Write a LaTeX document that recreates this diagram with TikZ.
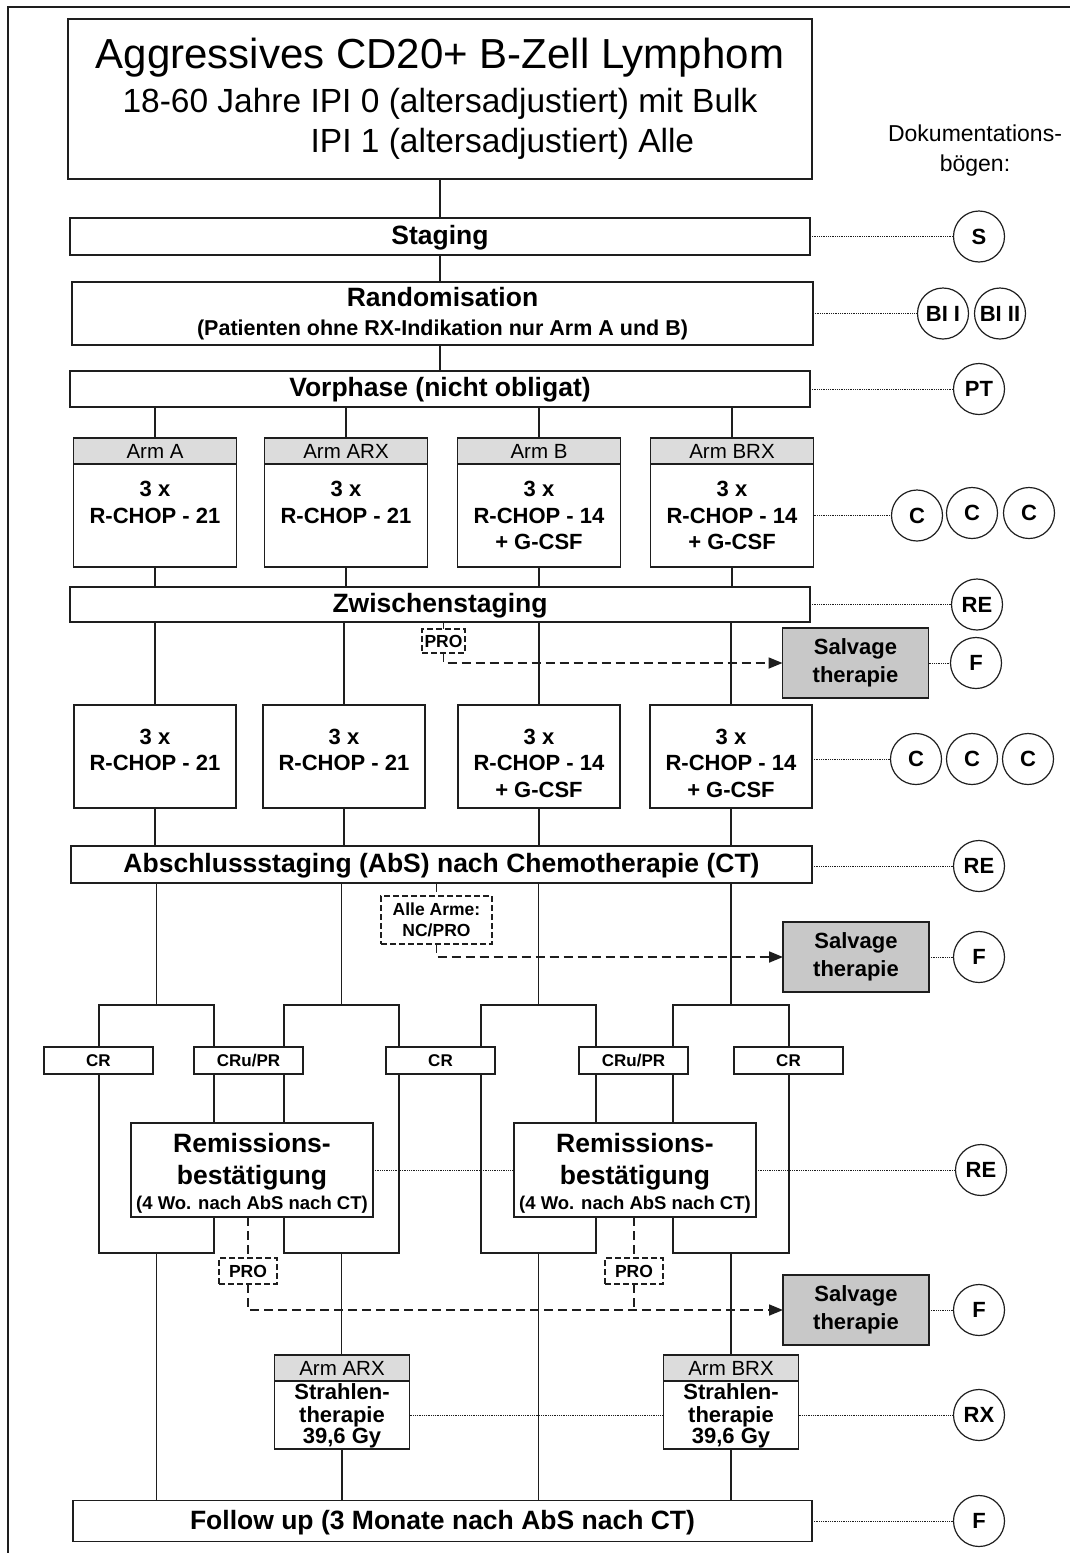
\documentclass[tikz,border=0pt]{standalone}
\usepackage{fontspec}
\setmainfont{Liberation Sans}
\usetikzlibrary{positioning,arrows.meta,backgrounds}
\definecolor{linedark}{RGB}{30,30,30}
\definecolor{headgray}{RGB}{220,220,220}
\definecolor{salvgray}{RGB}{200,200,200}
\newcommand{\fs}[2]{\fontsize{#1}{#2}\selectfont}
\newcommand{\dropby}[2]{\raisebox{-#1}[\height][\depth]{\begin{tabular}{@{}c@{}}#2\end{tabular}}}

\begin{document}
\begin{tikzpicture}[x=1pt,y=-1pt,
  box/.style={draw=linedark,line width=1.5pt,fill=white,inner sep=0pt,outer sep=0pt,align=center},
  wide/.style={box,minimum width=740,font=\bfseries\fs{26.5}{29}},
  armhead/.style={box,fill=headgray,minimum width=163,minimum height=26,font=\fs{20.5}{24}},
  armbody/.style={box,minimum width=163,minimum height=103,font=\bfseries\fs{22}{26.5}},
  salv/.style={box,fill=salvgray,minimum width=146,minimum height=70,font=\bfseries\fs{22}{28}},
  resp/.style={box,line width=1.3pt,minimum width=109,minimum height=27,font=\bfseries\fs{17}{20}},
  remi/.style={box,minimum width=242,minimum height=94,font=\bfseries\fs{26.5}{32}},
  rthead/.style={box,fill=headgray,minimum width=135,minimum height=26,font=\fs{20.5}{24}},
  rtbody/.style={box,minimum width=135,minimum height=68,font=\bfseries\fs{22}{21}},
  probox/.style={box,line width=1.2pt,dash pattern=on 6pt off 3pt,font=\bfseries\fs{17.5}{20}},
  docu/.style={circle,draw=linedark,line width=1.2pt,minimum size=51,inner sep=0pt,font=\bfseries\fs{22}{24}},
  conn/.style={linedark,line width=1.3pt},
  dots/.style={linedark,line width=0.8pt,densely dotted},
  dashline/.style={linedark,line width=1.8pt,dash pattern=on 9pt off 5pt},
  dasharrow/.style={dashline,-{Triangle[length=14pt,width=11pt]}}]
  \useasboundingbox (0,0) rectangle (1070,1553);
  % frame
  \draw[linedark,line width=1.2pt] (8,1553) -- (8,7) -- (1070,7);

  % title
  \node[box,minimum width=744,minimum height=160,font=\fs{33.5}{40}] (title) at (440,99)
    {\dropby{2pt}{{\fs{42}{46}Aggressives CD20+ B-Zell Lymphom}\\[4pt]
     \begin{tabular}{@{}l@{}}18-60 Jahre IPI 0 (altersadjustiert) mit Bulk\\
     \hphantom{18-60 Jahre }IPI 1 (altersadjustiert) Alle\end{tabular}}};
  \node[font=\fs{23}{30},align=center] (doku) at (975,151) {Dokumentations-\\bögen:};

  % staging, randomisation, vorphase
  \node[wide,minimum height=37] (staging) at (440,236.5) {\dropby{2pt}{Staging}};
  \node[wide,minimum width=741,minimum height=63] (random) at (442.5,313.5)
    {\dropby{1.5pt}{Randomisation\\{\fs{21.5}{29}(Patienten ohne RX-Indikation nur Arm A und B)}}};
  \node[wide,minimum height=36] (vorphase) at (440,389) {\dropby{2pt}{Vorphase (nicht obligat)}};

  % arms, first 3 cycles
  \node[armhead] (hA) at (155,451) {Arm A};
  \node[armbody,below=0pt of hA] (bA) {3 x\\R-CHOP - 21\\\mbox{}};
  \node[armhead] (hARX) at (346,451) {Arm ARX};
  \node[armbody,below=0pt of hARX] (bARX) {3 x\\R-CHOP - 21\\\mbox{}};
  \node[armhead] (hB) at (539,451) {Arm B};
  \node[armbody,below=0pt of hB] (bB) {3 x\\R-CHOP - 14\\+ G-CSF};
  \node[armhead] (hBRX) at (732,451) {Arm BRX};
  \node[armbody,below=0pt of hBRX] (bBRX) {3 x\\R-CHOP - 14\\+ G-CSF};

  % zwischenstaging
  \node[wide,minimum height=35] (zwischen) at (440,604.5) {\dropby{2pt}{Zwischenstaging}};
  \node[probox,minimum width=43,minimum height=24] (pro1) at (443.5,641) {PRO};
  \node[salv] (salv1) at (855.5,663) {Salvage\\therapie};

  % arms, second 3 cycles
  \node[armbody,minimum width=162] (rA) at (155,756.5) {\dropby{9pt}{3 x\\R-CHOP - 21\\\mbox{}}};
  \node[armbody,minimum width=162] (rARX) at (344,756.5) {\dropby{9pt}{3 x\\R-CHOP - 21\\\mbox{}}};
  \node[armbody,minimum width=162] (rB) at (539,756.5) {\dropby{9pt}{3 x\\R-CHOP - 14\\+ G-CSF}};
  \node[armbody,minimum width=162] (rBRX) at (731,756.5) {\dropby{9pt}{3 x\\R-CHOP - 14\\+ G-CSF}};

  % abschlussstaging
  \node[wide,minimum width=741,minimum height=37] (absch) at (441.5,864.5)
    {\dropby{2pt}{Abschlussstaging (AbS) nach Chemotherapie (CT)}};
  \node[probox,minimum width=111,minimum height=48,font=\bfseries\fs{17.5}{21}] (alle) at (436.5,920)
    {Alle Arme:\\NC/PRO};
  \node[salv] (salv2) at (856,957) {Salvage\\therapie};

  % response
  \node[resp] (cr1) at (98.5,1060.5) {CR};
  \node[resp] (cru1) at (248.5,1060.5) {CRu/PR};
  \node[resp] (cr2) at (440.5,1060.5) {CR};
  \node[resp] (cru2) at (633.5,1060.5) {CRu/PR};
  \node[resp] (cr3) at (788.5,1060.5) {CR};
  \node[remi] (rb1) at (252,1170)
    {\dropby{5pt}{Remissions-\\bestätigung\\[-7pt]{\fs{18.5}{22}(4 Wo. nach AbS nach CT)}}};
  \node[remi] (rb2) at (635,1170)
    {\dropby{5pt}{Remissions-\\bestätigung\\[-7pt]{\fs{18.5}{22}(4 Wo. nach AbS nach CT)}}};
  \node[probox,minimum width=58,minimum height=26] (proA) at (248,1271) {PRO};
  \node[probox,minimum width=58,minimum height=26] (proB) at (634,1271) {PRO};
  \node[salv] (salv3) at (856,1310) {Salvage\\therapie};

  % radiotherapy
  \node[rthead] (hStrA) at (342,1368) {Arm ARX};
  \node[rtbody,below=0pt of hStrA] (bStrA) {\dropby{2pt}{Strahlen-\\therapie\\39,6 Gy}};
  \node[rthead] (hStrB) at (731,1368) {Arm BRX};
  \node[rtbody,below=0pt of hStrB] (bStrB) {\dropby{2pt}{Strahlen-\\therapie\\39,6 Gy}};

  % follow up
  \node[wide,minimum width=739,minimum height=41] (follow) at (442.5,1521)
    {\dropby{3pt}{Follow up (3 Monate nach AbS nach CT)}};

  % documentation sheets
  \node[docu] (dS) at (979,236.5) {S};
  \node[docu] (dBI) at (943,313.5) {BI I};
  \node[docu] (dBII) at (1000,313.5) {BI II};
  \node[docu] (dPT) at (979,389) {PT};
  \node[docu] (dC1) at (917,515.5) {C};
  \node[docu] (dC2) at (972,513) {C};
  \node[docu] (dC3) at (1029,513) {C};
  \node[docu] (dRE1) at (977,604.5) {RE};
  \node[docu] (dF1) at (976,663) {F};
  \node[docu] (dC4) at (916,759) {C};
  \node[docu] (dC5) at (972,759) {C};
  \node[docu] (dC6) at (1028,759) {C};
  \node[docu] (dRE2) at (979,866) {RE};
  \node[docu] (dF2) at (979,957) {F};
  \node[docu] (dRE3) at (981,1170) {RE};
  \node[docu] (dF3) at (979,1310) {F};
  \node[docu] (dRX) at (979,1415) {RX};
  \node[docu] (dF4) at (979,1521) {F};

  \begin{scope}[on background layer]
    % main stem
    \draw[conn] (title.south) -- (title.south |- staging.north);
    \draw[conn] (staging.south) -- (staging.south |- random.north);
    \draw[conn] (vorphase.north) -- (vorphase.north |- random.south);
    \foreach \a in {A,ARX,B,BRX} {
      \draw[conn] (vorphase.south -| h\a.north) -- (h\a.north);
      \draw[conn] (b\a.south) -- (b\a.south |- zwischen.north);
      \draw[conn] (zwischen.south -| r\a.north) -- (r\a.north);
      \draw[conn] (r\a.south) -- (r\a.south |- absch.north);
    }
    % response loops
    \foreach \n/\l/\r in {A/99/214,ARX/284/399,B/481/596,BRX/673/789} {
      \coordinate (top\n) at ({(\l+\r)/2},1005);
      \coordinate (bot\n) at ({(\l+\r)/2},1253);
      \draw[conn] (\l,1005) rectangle (\r,1253);
      \draw[conn] (absch.south -| top\n) -- (top\n);
    }
    \draw[conn] (botA) -- (botA |- follow.north);
    \draw[conn] (botB) -- (botB |- follow.north);
    \draw[conn] (botARX) -- (botARX |- hStrA.north);
    \draw[conn] (botBRX) -- (botBRX |- hStrB.north);
    \draw[conn] (bStrA.south) -- (bStrA.south |- follow.north);
    \draw[conn] (bStrB.south) -- (bStrB.south |- follow.north);

    % salvage paths
    \draw[dashline] (zwischen.south -| pro1.north) -- (pro1.north);
    \draw[dasharrow] (pro1.south) |- (salv1.west);
    \draw[dashline] (absch.south -| alle.north) -- (alle.north);
    \draw[dasharrow] (alle.south) |- (salv2.west);
    \draw[dashline] (rb1.south -| proA.north) -- (proA.north);
    \draw[dasharrow] (proA.south) |- (salv3.west);
    \draw[dashline] (rb2.south -| proB.north) -- (proB.north);
    \draw[dashline] (proB.south) -- (proB.south |- salv3.west);

    % documentation links
    \draw[dots] (staging.east |- dS) -- (dS.west);
    \draw[dots] (random.east |- dBI) -- (dBI.west);
    \draw[dots] (vorphase.east |- dPT) -- (dPT.west);
    \draw[dots] (bBRX.east |- dC1) -- (dC1.west);
    \draw[dots] (zwischen.east |- dRE1) -- (dRE1.west);
    \draw[dots] (salv1.east |- dF1) -- (dF1.west);
    \draw[dots] (rBRX.east |- dC4) -- (dC4.west);
    \draw[dots] (absch.east |- dRE2) -- (dRE2.west);
    \draw[dots] (salv2.east |- dF2) -- (dF2.west);
    \draw[dots] (rb1.east) -- (rb2.west);
    \draw[dots] (rb2.east |- dRE3) -- (dRE3.west);
    \draw[dots] (salv3.east |- dF3) -- (dF3.west);
    \draw[dots] (bStrA.east) -- (bStrB.west);
    \draw[dots] (bStrB.east |- dRX) -- (dRX.west);
    \draw[dots] (follow.east |- dF4) -- (dF4.west);
  \end{scope}
\end{tikzpicture}
\end{document}
